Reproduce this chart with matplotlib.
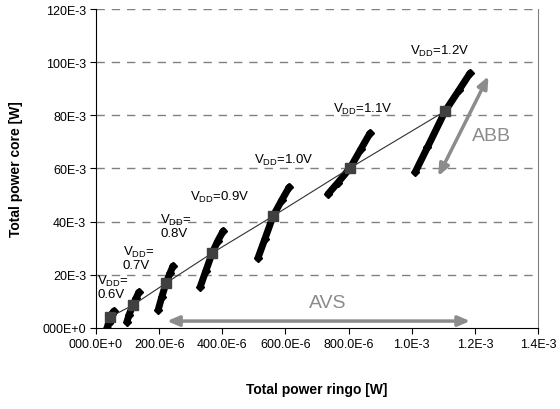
import numpy as np
import matplotlib.pyplot as plt

plt.rcParams['font.family'] = ['Liberation Sans', 'DejaVu Sans']

# data (W)
vdd = ['0.6V', '0.7V', '0.8V', '0.9V', '1.0V', '1.1V', '1.2V']
# nominal point per VDD (grey squares)
nom_x = np.array([44e-6, 117e-6, 222e-6, 368e-6, 561e-6, 805e-6, 1.106e-3])
nom_y = np.array([4.1e-3, 8.6e-3, 16.9e-3, 28.2e-3, 42.1e-3, 60.2e-3, 81.6e-3])
# spread of each cluster (ABB sweep), bottom -> top
clu_x = [
    [35e-6, 40e-6, 44e-6, 50e-6, 57e-6],
    [98e-6, 105e-6, 117e-6, 127e-6, 136e-6],
    [197e-6, 208e-6, 222e-6, 234e-6, 244e-6],
    [330e-6, 348e-6, 368e-6, 386e-6, 403e-6],
    [513e-6, 535e-6, 561e-6, 588e-6, 612e-6],
    [735e-6, 765e-6, 805e-6, 840e-6, 868e-6],
    [1.011e-3, 1.05e-3, 1.106e-3, 1.15e-3, 1.185e-3],
]
clu_y = [
    [0.0, 2.0e-3, 4.1e-3, 5.3e-3, 6.4e-3],
    [2.3e-3, 5.0e-3, 8.6e-3, 11.2e-3, 13.5e-3],
    [6.8e-3, 11.5e-3, 16.9e-3, 20.5e-3, 23.3e-3],
    [15.4e-3, 21.5e-3, 28.2e-3, 32.8e-3, 36.5e-3],
    [26.3e-3, 33.5e-3, 42.1e-3, 48.0e-3, 53.0e-3],
    [50.4e-3, 54.5e-3, 60.2e-3, 67.5e-3, 73.3e-3],
    [58.6e-3, 68.0e-3, 81.6e-3, 89.5e-3, 95.9e-3],
]
xticks = [0, 200e-6, 400e-6, 600e-6, 800e-6, 1.0e-3, 1.2e-3, 1.4e-3]
xtick_labels = ['000.0E+0', '200.0E-6', '400.0E-6', '600.0E-6', '800.0E-6', '1.0E-3', '1.2E-3', '1.4E-3']
yticks = [0, 20e-3, 40e-3, 60e-3, 80e-3, 100e-3, 120e-3]
ytick_labels = ['000E+0', '20E-3', '40E-3', '60E-3', '80E-3', '100E-3', '120E-3']

# label positions (data coords)
lab_x = [4e-6, 85e-6, 203e-6, 298e-6, 500e-6, 751e-6, 996e-6]
lab_y = [15.5e-3, 26.5e-3, 38.5e-3, 49.5e-3, 63.5e-3, 82.5e-3, 104.5e-3]

fig = plt.figure(figsize=(5.6, 4.1), dpi=100)
ax = fig.add_axes([0.1714, 0.1976, 0.7893, 0.778])

ax.set_xlim(0, 1.4e-3)
ax.set_ylim(0, 120e-3)

for y in yticks[1:]:
    ax.axhline(y, color='#808080', lw=1, ls=(0, (6, 5)), zorder=1)

for cx, cy in zip(clu_x, clu_y):
    ax.plot(cx, cy, color='black', lw=5, solid_capstyle='round',
            marker='D', ms=4, zorder=3)

ax.plot(nom_x, nom_y, color='#303030', lw=0.8, zorder=4)
ax.plot(nom_x, nom_y, ls='none', marker='s', ms=7, color='#404040', zorder=5)

for i, v in enumerate(vdd):
    if i < 3:
        txt = '$\\mathregular{V_{DD}}$=\n' + v
    else:
        txt = '$\\mathregular{V_{DD}}$=' + v
    ax.text(lab_x[i], lab_y[i], txt, fontsize=9.5, ha='left', va='center',
            linespacing=1.0, zorder=6)

gray = '#8c8c8c'
ax.annotate('', xy=(1.243e-3, 94.7e-3), xytext=(1.084e-3, 57.1e-3),
            arrowprops=dict(arrowstyle='<|-|>,head_length=0.7,head_width=0.3',
                            color=gray, lw=2.5, shrinkA=0, shrinkB=0))
ax.annotate('', xy=(225e-6, 2.6e-3), xytext=(1.185e-3, 2.6e-3),
            arrowprops=dict(arrowstyle='<|-|>,head_length=0.7,head_width=0.3',
                            color=gray, lw=2.5, shrinkA=0, shrinkB=0))
ax.text(1.254e-3, 72.5e-3, 'ABB', color=gray, fontsize=14, ha='center', va='center')
ax.text(735e-6, 9.4e-3, 'AVS', color=gray, fontsize=14, ha='center', va='center')

ax.set_xticks(xticks)
ax.set_xticklabels(xtick_labels)
ax.set_yticks(yticks)
ax.set_yticklabels(ytick_labels)
ax.tick_params(direction='out', length=4, labelsize=9, pad=3)

ax.spines['top'].set_visible(False)
ax.spines['right'].set_color('#808080')
ax.spines['left'].set_color('black')
ax.spines['bottom'].set_color('black')

ax.set_xlabel('Total power ringo [W]', fontsize=10, fontweight='bold')
ax.xaxis.set_label_coords(0.5, -0.17)
ax.set_ylabel('Total power core [W]', fontsize=10, fontweight='bold')
ax.yaxis.set_label_coords(-0.165, 0.5)

fig.savefig('out.png', dpi=100)
